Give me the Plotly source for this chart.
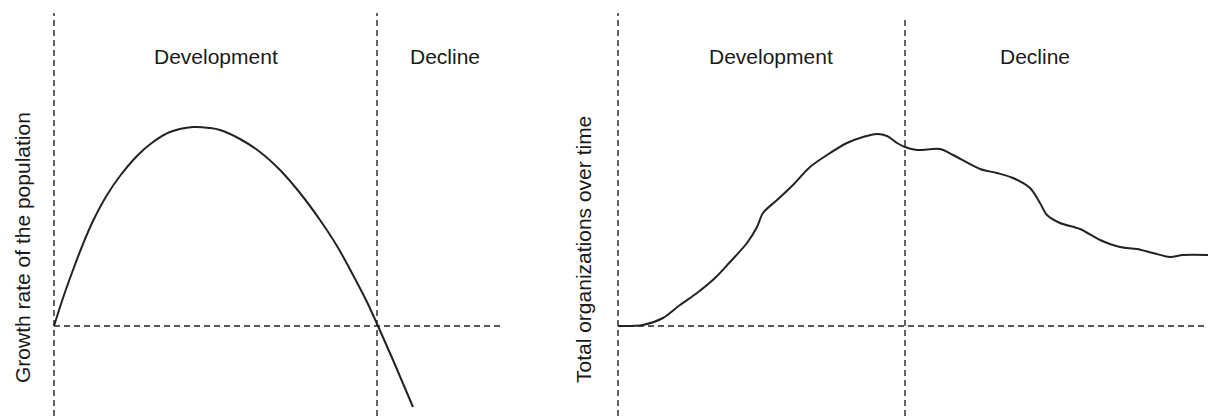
import plotly.graph_objects as go
from plotly.subplots import make_subplots

# Left panel: growth rate of the population (time offset, value above baseline)
growth_time = [0, 9, 19, 29, 39, 53, 66, 83, 99, 116, 139, 156, 166, 186, 206, 226, 246, 266,
               283, 299, 313, 324, 339, 359]
growth_rate = [0, 28, 56, 82, 105, 131, 150, 170, 184, 194, 199, 198, 196, 187, 174, 156, 133, 106,
               80, 51, 24, 0, -34, -81]

# Right panel: total organizations over time
org_time = [0, 25, 45, 62, 79, 97, 112, 129, 139, 145, 159, 175, 192, 209, 229, 245, 259, 269,
            279, 287, 299, 322, 335, 362, 379, 395, 412, 422, 429, 442, 462, 482, 502, 519,
            535, 552, 565, 590]
org_total = [0, 1, 8, 21, 33, 48, 64, 83, 99, 113, 126, 141, 159, 171, 183, 189, 192, 190,
             183, 179, 176, 177, 171, 157, 153, 148, 138, 123, 111, 103, 97, 86, 79, 77,
             73, 69, 71, 71]

# Phase boundaries (time at which development turns into decline)
left_boundary = 323
right_boundary = 287
left_end = 448
right_end = 590

phase_labels = ["Development", "Decline"]
left_label_x = [162, 391]
right_label_x = [153, 417]
label_y = 270

ylabels = ["Growth rate of the population", "Total organizations over time"]

W, H = 1208, 416
split = 560 / W

fig = make_subplots(rows=1, cols=2, horizontal_spacing=0)
fig.update_xaxes(domain=[0, split], range=[-54, 506], row=1, col=1)
fig.update_xaxes(domain=[split, 1], range=[-58, 590], row=1, col=2)
fig.update_yaxes(range=[-90, 326])
fig.update_xaxes(visible=False, fixedrange=True)
fig.update_yaxes(visible=False, fixedrange=True)

line_color = "#222222"
fig.add_trace(go.Scatter(x=growth_time, y=growth_rate, mode="lines",
                         line=dict(color=line_color, width=2, shape="spline", smoothing=1.0),
                         hoverinfo="skip"), row=1, col=1)
fig.add_trace(go.Scatter(x=org_time, y=org_total, mode="lines",
                         line=dict(color=line_color, width=2, shape="spline", smoothing=0.9),
                         hoverinfo="skip"), row=1, col=2)

dash = dict(color=line_color, width=1.4, dash="6px,4px")
shapes = [
    dict(type="line", xref="x", yref="y", x0=0, x1=0, y0=-90, y1=313, line=dash),
    dict(type="line", xref="x", yref="y", x0=left_boundary, x1=left_boundary, y0=-90, y1=313, line=dash),
    dict(type="line", xref="x", yref="y", x0=0, x1=left_end, y0=0, y1=0, line=dash),
    dict(type="line", xref="x2", yref="y2", x0=0, x1=0, y0=-90, y1=313, line=dash),
    dict(type="line", xref="x2", yref="y2", x0=right_boundary, x1=right_boundary, y0=-90, y1=310, line=dash),
    dict(type="line", xref="x2", yref="y2", x0=0, x1=right_end, y0=0, y1=0, line=dash),
]

font = dict(family="Liberation Sans, Arial, Helvetica, sans-serif", size=21, color="#1a1a1a")
annotations = []
for lbl, x in zip(phase_labels, left_label_x):
    annotations.append(dict(text=lbl, x=x, y=label_y, xref="x", yref="y",
                            showarrow=False, font=font, xanchor="center", yanchor="middle"))
for lbl, x in zip(phase_labels, right_label_x):
    annotations.append(dict(text=lbl, x=x, y=label_y, xref="x2", yref="y2",
                            showarrow=False, font=font, xanchor="center", yanchor="middle"))
annotations.append(dict(text=ylabels[0], x=22 / W, y=(H - 248) / H, xref="paper", yref="paper",
                        textangle=-90, showarrow=False, font=font,
                        xanchor="center", yanchor="middle"))
annotations.append(dict(text=ylabels[1], x=583 / W, y=(H - 250) / H, xref="paper", yref="paper",
                        textangle=-90, showarrow=False, font=font,
                        xanchor="center", yanchor="middle"))

fig.update_layout(width=W, height=H, margin=dict(l=0, r=0, t=0, b=0),
                  paper_bgcolor="white", plot_bgcolor="white", showlegend=False,
                  shapes=shapes, annotations=annotations)

fig.write_html("out.html", config={"displayModeBar": False},
               post_script="document.body.style.margin='0';document.body.style.overflow='hidden';")
